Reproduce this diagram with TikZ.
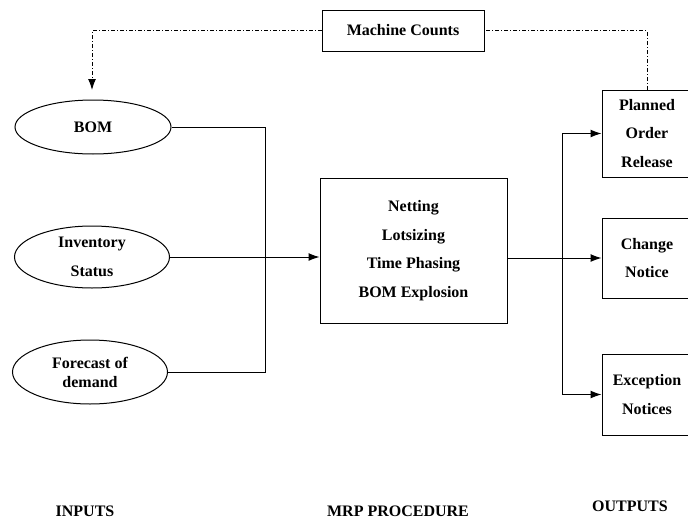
\documentclass[tikz,border=0pt]{standalone}
\usepackage{fontspec}
\setmainfont{Liberation Serif}
\usetikzlibrary{arrows.meta,shapes.geometric}
\begin{document}
\begin{tikzpicture}[x=1pt,y=-1pt,
  every node/.style={font=\fontsize{16}{28.5}\selectfont\bfseries, inner sep=0pt, align=center},
  inbox/.style={draw, ellipse, line width=1pt},
  box/.style={draw, rectangle, line width=1pt},
  conn/.style={line width=1pt},
  tip/.style={-{Latex[length=11pt,width=8pt]}},
  arr/.style={conn, tip},
  fb/.style={line width=1pt, dash pattern=on 4pt off 2pt on 1pt off 2pt},
  label/.style={font=\fontsize{16}{18}\selectfont\bfseries}]
\useasboundingbox (0,0) rectangle (688,522);
\clip (0,0) rectangle (688,522);

% inputs
\node[inbox, minimum width=156pt, minimum height=54pt] (bom) at (93,127) {BOM};
\node[inbox, minimum width=155pt, minimum height=62pt] (inv) at (92,257) {Inventory\\Status};
\node[inbox, minimum width=155pt, minimum height=64pt, font=\fontsize{16}{19}\selectfont\bfseries] (fc) at (90,372) {Forecast of\\demand};

% MRP procedure
\node[box, minimum width=187pt, minimum height=145pt] (proc) at (413.5,250.5)
  {Netting\\Lotsizing\\Time Phasing\\BOM Explosion};

% outputs
\node[box, minimum width=90pt, minimum height=87pt] (pl) at (647,133.5) {Planned\\Order\\Release};
\node[box, minimum width=90pt, minimum height=80pt] (cn) at (647,258) {Change\\Notice};
\node[box, minimum width=90pt, minimum height=81pt] (ex) at (647,394.5) {Exception\\Notices};

% feedback
\node[box, minimum width=162pt, minimum height=41pt] (mc) at (403,30.5) {Machine Counts};

% input bus
\coordinate (bus) at (265,257);
\draw[conn] (bom.east) -| (bus);
\draw[conn] (fc.east) -| (bus);
\draw[arr] (inv.east) -- (proc.west |- inv.east);

% output split
\coordinate (split) at (562,258);
\draw[conn] (proc.east |- split) -- (split);
\draw[arr] (split) -- (cn.west);
\draw[arr] (split) |- (pl.west);
\draw[arr] (split) |- (ex.west);

% machine counts feedback loop
\coordinate (bomtip) at (92,90);
\draw[fb] (pl.north) |- (mc.east);
\draw[fb, tip] (mc.west) -| (bomtip);

% column labels
\node[label] (lin) at (85,511) {INPUTS};
\node[label] (lproc) at (398,511) {MRP PROCEDURE};
\node[label] (lout) at (630,506) {OUTPUTS};
\end{tikzpicture}
\end{document}
